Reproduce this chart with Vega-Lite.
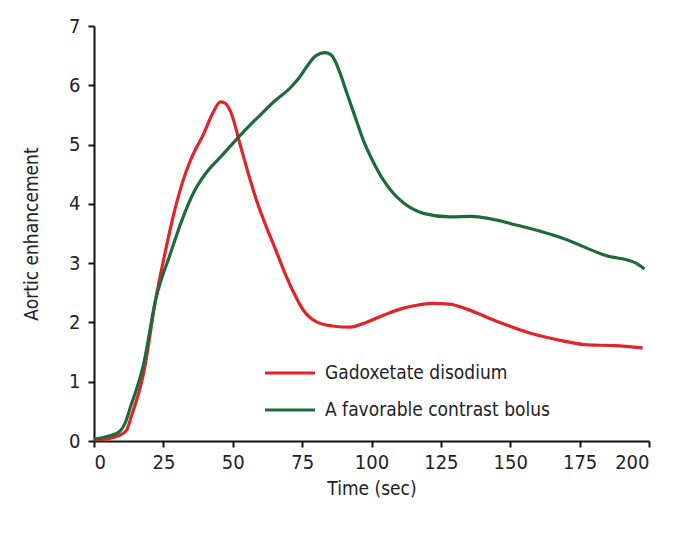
{
  "$schema": "https://vega.github.io/schema/vega-lite/v6.json",
  "width": 555,
  "height": 415,
  "autosize": {"type": "none"},
  "padding": {"left": 94, "top": 26, "right": 28, "bottom": 94},
  "background": "white",
  "config": {
    "view": {"stroke": null},
    "font": "DejaVu Sans Condensed, Liberation Sans",
    "axis": {
      "grid": false,
      "domainColor": "#111",
      "domainWidth": 2,
      "tickColor": "#111",
      "tickWidth": 2,
      "tickSize": 6,
      "labelFont": "DejaVu Sans Condensed, Liberation Sans",
      "labelFontSize": 20,
      "labelColor": "#222",
      "titleFont": "DejaVu Sans Condensed, Liberation Sans",
      "titleFontSize": 19,
      "titleFontWeight": "normal",
      "titleColor": "#222"
    }
  },
  "data": {
    "values": [
      {"t": 0, "v": 0.02, "s": "Gadoxetate disodium"},
      {"t": 5, "v": 0.04, "s": "Gadoxetate disodium"},
      {"t": 9, "v": 0.09, "s": "Gadoxetate disodium"},
      {"t": 11.7, "v": 0.18, "s": "Gadoxetate disodium"},
      {"t": 13.5, "v": 0.42, "s": "Gadoxetate disodium"},
      {"t": 17.9, "v": 1.15, "s": "Gadoxetate disodium"},
      {"t": 22.2, "v": 2.38, "s": "Gadoxetate disodium"},
      {"t": 25.5, "v": 3.15, "s": "Gadoxetate disodium"},
      {"t": 28.8, "v": 3.84, "s": "Gadoxetate disodium"},
      {"t": 31.8, "v": 4.35, "s": "Gadoxetate disodium"},
      {"t": 34.8, "v": 4.74, "s": "Gadoxetate disodium"},
      {"t": 39.6, "v": 5.19, "s": "Gadoxetate disodium"},
      {"t": 43, "v": 5.55, "s": "Gadoxetate disodium"},
      {"t": 45.6, "v": 5.72, "s": "Gadoxetate disodium"},
      {"t": 47.2, "v": 5.7, "s": "Gadoxetate disodium"},
      {"t": 49.2, "v": 5.56, "s": "Gadoxetate disodium"},
      {"t": 52.9, "v": 4.96, "s": "Gadoxetate disodium"},
      {"t": 56, "v": 4.45, "s": "Gadoxetate disodium"},
      {"t": 59, "v": 4.0, "s": "Gadoxetate disodium"},
      {"t": 62.2, "v": 3.6, "s": "Gadoxetate disodium"},
      {"t": 65, "v": 3.28, "s": "Gadoxetate disodium"},
      {"t": 68.2, "v": 2.9, "s": "Gadoxetate disodium"},
      {"t": 72, "v": 2.5, "s": "Gadoxetate disodium"},
      {"t": 75.4, "v": 2.21, "s": "Gadoxetate disodium"},
      {"t": 80.2, "v": 2.01, "s": "Gadoxetate disodium"},
      {"t": 86, "v": 1.94, "s": "Gadoxetate disodium"},
      {"t": 92.2, "v": 1.92, "s": "Gadoxetate disodium"},
      {"t": 98, "v": 2.0, "s": "Gadoxetate disodium"},
      {"t": 104.3, "v": 2.12, "s": "Gadoxetate disodium"},
      {"t": 110, "v": 2.22, "s": "Gadoxetate disodium"},
      {"t": 116.3, "v": 2.29, "s": "Gadoxetate disodium"},
      {"t": 122, "v": 2.32, "s": "Gadoxetate disodium"},
      {"t": 128, "v": 2.31, "s": "Gadoxetate disodium"},
      {"t": 134.6, "v": 2.22, "s": "Gadoxetate disodium"},
      {"t": 144, "v": 2.04, "s": "Gadoxetate disodium"},
      {"t": 156.4, "v": 1.83, "s": "Gadoxetate disodium"},
      {"t": 168.9, "v": 1.69, "s": "Gadoxetate disodium"},
      {"t": 178, "v": 1.62, "s": "Gadoxetate disodium"},
      {"t": 187.5, "v": 1.61, "s": "Gadoxetate disodium"},
      {"t": 197.7, "v": 1.57, "s": "Gadoxetate disodium"},
      {"t": 0, "v": 0.03, "s": "A favorable contrast bolus"},
      {"t": 5, "v": 0.08, "s": "A favorable contrast bolus"},
      {"t": 9, "v": 0.15, "s": "A favorable contrast bolus"},
      {"t": 11, "v": 0.28, "s": "A favorable contrast bolus"},
      {"t": 13.2, "v": 0.58, "s": "A favorable contrast bolus"},
      {"t": 17.9, "v": 1.3, "s": "A favorable contrast bolus"},
      {"t": 22.2, "v": 2.38, "s": "A favorable contrast bolus"},
      {"t": 27.6, "v": 3.17, "s": "A favorable contrast bolus"},
      {"t": 31.5, "v": 3.7, "s": "A favorable contrast bolus"},
      {"t": 36, "v": 4.2, "s": "A favorable contrast bolus"},
      {"t": 40.5, "v": 4.53, "s": "A favorable contrast bolus"},
      {"t": 45.6, "v": 4.79, "s": "A favorable contrast bolus"},
      {"t": 51.6, "v": 5.1, "s": "A favorable contrast bolus"},
      {"t": 56.2, "v": 5.33, "s": "A favorable contrast bolus"},
      {"t": 60, "v": 5.5, "s": "A favorable contrast bolus"},
      {"t": 65, "v": 5.73, "s": "A favorable contrast bolus"},
      {"t": 70.6, "v": 5.95, "s": "A favorable contrast bolus"},
      {"t": 73.5, "v": 6.1, "s": "A favorable contrast bolus"},
      {"t": 76.6, "v": 6.31, "s": "A favorable contrast bolus"},
      {"t": 80, "v": 6.5, "s": "A favorable contrast bolus"},
      {"t": 83.2, "v": 6.55, "s": "A favorable contrast bolus"},
      {"t": 85.2, "v": 6.52, "s": "A favorable contrast bolus"},
      {"t": 86.8, "v": 6.42, "s": "A favorable contrast bolus"},
      {"t": 88.7, "v": 6.2, "s": "A favorable contrast bolus"},
      {"t": 90.9, "v": 5.9, "s": "A favorable contrast bolus"},
      {"t": 94, "v": 5.48, "s": "A favorable contrast bolus"},
      {"t": 97, "v": 5.08, "s": "A favorable contrast bolus"},
      {"t": 100.5, "v": 4.72, "s": "A favorable contrast bolus"},
      {"t": 104.3, "v": 4.4, "s": "A favorable contrast bolus"},
      {"t": 108, "v": 4.17, "s": "A favorable contrast bolus"},
      {"t": 111.5, "v": 4.02, "s": "A favorable contrast bolus"},
      {"t": 115, "v": 3.91, "s": "A favorable contrast bolus"},
      {"t": 118.7, "v": 3.84, "s": "A favorable contrast bolus"},
      {"t": 128.3, "v": 3.78, "s": "A favorable contrast bolus"},
      {"t": 136, "v": 3.79, "s": "A favorable contrast bolus"},
      {"t": 153.3, "v": 3.63, "s": "A favorable contrast bolus"},
      {"t": 168.9, "v": 3.42, "s": "A favorable contrast bolus"},
      {"t": 184.4, "v": 3.13, "s": "A favorable contrast bolus"},
      {"t": 195.3, "v": 3.0, "s": "A favorable contrast bolus"},
      {"t": 198.4, "v": 2.9, "s": "A favorable contrast bolus"}
    ]
  },
  "mark": {"type": "line", "strokeWidth": 3.2, "interpolate": "monotone"},
  "encoding": {
    "x": {
      "field": "t", "type": "quantitative", "title": "Time (sec)",
      "scale": {"domain": [0, 200], "nice": false},
      "axis": {"values": [0, 25, 50, 75, 100, 125, 150, 175, 200], "labelPadding": 5, "titlePadding": 7}
    },
    "y": {
      "field": "v", "type": "quantitative", "title": "Aortic enhancement",
      "scale": {"domain": [0, 7], "nice": false},
      "axis": {"values": [0, 1, 2, 3, 4, 5, 6, 7], "labelPadding": 8, "titlePadding": 27}
    },
    "color": {
      "field": "s", "type": "nominal", "title": null,
      "scale": {"domain": ["Gadoxetate disodium", "A favorable contrast bolus"], "range": ["#e1232b", "#1f6a3a"]},
      "legend": {
        "orient": "none", "legendX": 169, "legendY": 320,
        "symbolType": "stroke", "symbolSize": 2500, "symbolStrokeWidth": 3.2,
        "labelFont": "DejaVu Sans Condensed, Liberation Sans", "labelFontSize": 19, "labelColor": "#222",
        "labelLimit": 400, "labelOffset": 8, "rowPadding": -4, "padding": 0
      }
    }
  }
}
